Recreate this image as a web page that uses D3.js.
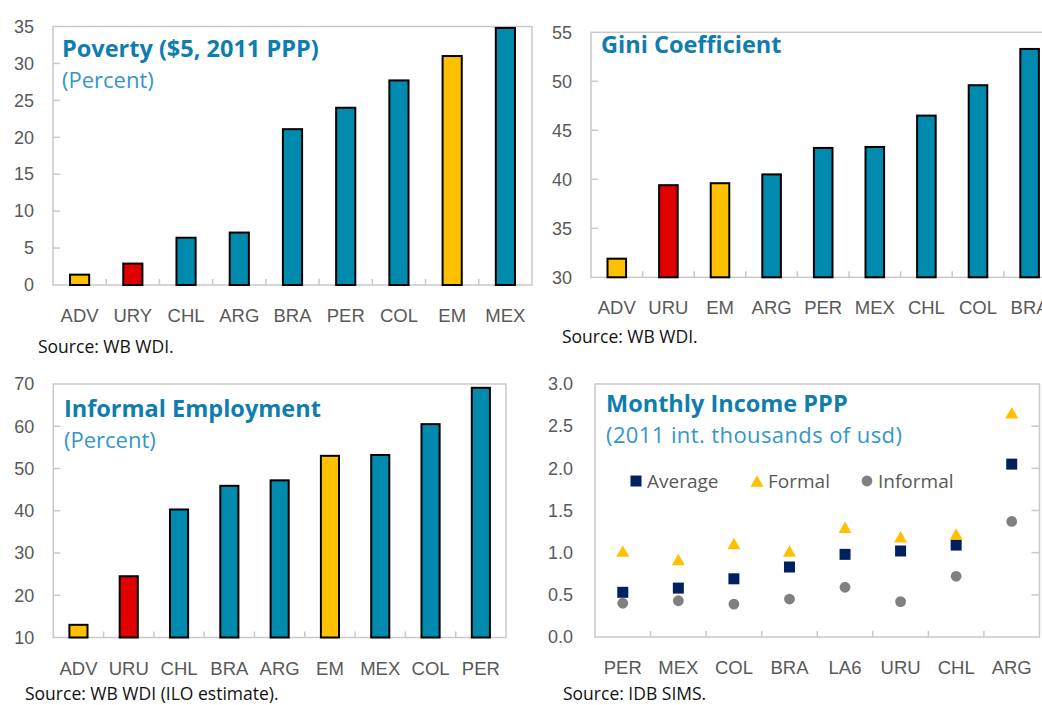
<!DOCTYPE html>
<html>
<head>
<meta charset="utf-8">
<script src="https://cdn.jsdelivr.net/npm/d3@7"></script>
<style>
  html, body { margin: 0; padding: 0; background: #ffffff; }
  svg { display: block; font-family: "Open Sans", "Noto Sans", sans-serif; }
</style>
</head>
<body>
<svg id="chart" width="1042" height="705"></svg>
<script>
// ---- Poverty ($5/day, 2011 PPP), percent ----
const povertyCats = ["ADV", "URY", "CHL", "ARG", "BRA", "PER", "COL", "EM", "MEX"];
const povertyVals = [1.4, 2.9, 6.4, 7.1, 21.1, 24.0, 27.7, 31.0, 34.8];
const povertyTicks = [0, 5, 10, 15, 20, 25, 30, 35];

// ---- Gini coefficient ----
const giniCats = ["ADV", "URU", "EM", "ARG", "PER", "MEX", "CHL", "COL", "BRA"];
const giniVals = [31.9, 39.4, 39.6, 40.5, 43.2, 43.3, 46.5, 49.6, 53.3];
const giniTicks = [30, 35, 40, 45, 50, 55];

// ---- Informal employment, percent ----
const informalCats = ["ADV", "URU", "CHL", "BRA", "ARG", "EM", "MEX", "COL", "PER"];
const informalVals = [13.0, 24.5, 40.3, 45.9, 47.2, 53.0, 53.2, 60.5, 69.1];
const informalTicks = [10, 20, 30, 40, 50, 60, 70];

// ---- Monthly income PPP (2011 int. thousands of USD) ----
const incomeCats = ["PER", "MEX", "COL", "BRA", "LA6", "URU", "CHL", "ARG"];
const incomeAverage = [0.53, 0.58, 0.69, 0.83, 0.98, 1.02, 1.09, 2.05];
const incomeFormal = [1.02, 0.92, 1.11, 1.02, 1.30, 1.19, 1.22, 2.66];
const incomeInformal = [0.40, 0.43, 0.39, 0.45, 0.59, 0.42, 0.72, 1.37];
const incomeTicks = [0, 0.5, 1.0, 1.5, 2.0, 2.5, 3.0];
const incomeSeries = ["Average", "Formal", "Informal"];

// ---- palette ----
const TEAL = "#008AAE", GOLD = "#FFC000", RED = "#E00000";
const NAVY = "#002060", GREY_DOT = "#808080";
const TITLE = "#0F7DAD", SUBTITLE = "#3397C8";
const AXIS_TEXT = "#595959", FRAME = "#C9C9C9";

// aggregates in gold, Uruguay in red, other countries in teal
function barColor(cat) {
  if (cat === "ADV" || cat === "EM") return GOLD;
  if (cat === "URY" || cat === "URU") return RED;
  return TEAL;
}

const svg = d3.select("#chart");
svg.append("rect").attr("width", 1042).attr("height", 705).attr("fill", "#fff");

// Shared frame: box, inward value ticks, category tick marks, labels
function drawFrame(g, x, y, ticks, opts) {
  const [x0, x1] = x.range();
  const [yb, yt] = y.range();

  // y labels (left)
  const yAxis = g.append("g")
    .attr("transform", `translate(${x0},0)`)
    .call(d3.axisLeft(y).tickValues(ticks).tickSize(0).tickPadding(opts.yPad)
      .tickFormat(opts.yFormat || d3.format("d")));
  yAxis.select(".domain").remove();
  yAxis.selectAll("text")
    .attr("fill", AXIS_TEXT).style("font-size", "18px");

  // inward value ticks (left or right edge)
  const inner = ticks.filter(t => t !== y.domain()[0] && t !== y.domain()[1]);
  g.append("g").selectAll("line").data(inner).join("line")
    .attr("x1", opts.rightTicks ? x1 : x0)
    .attr("x2", opts.rightTicks ? x1 - 8 : x0 + 7)
    .attr("y1", d => y(d)).attr("y2", d => y(d))
    .attr("stroke", FRAME).attr("stroke-width", 1.5);

  // category boundary ticks on the baseline
  g.append("g").selectAll("line").data(x.domain().slice(1)).join("line")
    .attr("x1", d => x(d)).attr("x2", d => x(d))
    .attr("y1", yb).attr("y2", yb - 6)
    .attr("stroke", FRAME).attr("stroke-width", 1.5);

  // frame box
  g.append("rect")
    .attr("x", x0).attr("y", yt)
    .attr("width", x1 - x0).attr("height", yb - yt)
    .attr("fill", "none").attr("stroke", FRAME).attr("stroke-width", 1.5);

  // category labels
  const xAxis = g.append("g")
    .attr("transform", `translate(0,${yb})`)
    .call(d3.axisBottom(x).tickSize(0).tickPadding(opts.xPad));
  xAxis.select(".domain").remove();
  xAxis.selectAll("text")
    .attr("fill", AXIS_TEXT).style("font-size", "18.5px");
}

function drawTitles(g, t) {
  g.append("text")
    .attr("x", t.x).attr("y", t.y)
    .attr("fill", TITLE).attr("font-weight", "bold")
    .style("font-size", "23.5px")
    .text(t.title);
  if (t.sub) {
    g.append("text")
      .attr("x", t.x).attr("y", t.y + 31)
      .attr("fill", SUBTITLE)
      .style("font-size", "22px")
      .style("letter-spacing", t.subSpacing || "0px")
      .text(t.sub);
  }
}

function drawSource(g, x, y, text) {
  g.append("text").attr("x", x).attr("y", y)
    .attr("fill", "#111").style("font-size", "17.5px")
    .text(text);
}

function barPanel(p) {
  const g = svg.append("g");
  const x = d3.scaleBand().domain(p.cats).range(p.xRange).padding(0);
  const y = d3.scaleLinear().domain(p.domain).range(p.yRange);
  const bw = x.bandwidth() * 0.36;

  drawFrame(g, x, y, p.ticks, { yPad: 19, xPad: 24 });

  g.append("g").selectAll("rect")
    .data(p.cats.map((c, i) => ({ c, v: p.vals[i] })))
    .join("rect")
    .attr("x", d => x(d.c) + (x.bandwidth() - bw) / 2)
    .attr("width", bw)
    .attr("y", d => y(d.v))
    .attr("height", d => y(p.domain[0]) - y(d.v))
    .attr("fill", d => barColor(d.c))
    .attr("stroke", "#000").attr("stroke-width", 2);

  drawTitles(g, p.titleAt);
  drawSource(g, p.sourceAt[0], p.sourceAt[1], p.source);
}

barPanel({
  cats: povertyCats, vals: povertyVals, ticks: povertyTicks,
  domain: [0, 35], xRange: [53, 532], yRange: [285, 26.5],
  titleAt: { x: 62, y: 57, title: "Poverty ($5, 2011 PPP)", sub: "(Percent)" },
  sourceAt: [38, 353], source: "Source: WB WDI."
});

barPanel({
  cats: giniCats, vals: giniVals, ticks: giniTicks,
  domain: [30, 55], xRange: [591, 1055.4], yRange: [277.3, 32.3],
  titleAt: { x: 601, y: 53, title: "Gini Coefficient" },
  sourceAt: [562, 343], source: "Source: WB WDI."
});

barPanel({
  cats: informalCats, vals: informalVals, ticks: informalTicks,
  domain: [10, 70], xRange: [53.3, 506], yRange: [637.5, 384],
  titleAt: { x: 64, y: 417, title: "Informal Employment", sub: "(Percent)" },
  sourceAt: [25, 700], source: "Source: WB WDI (ILO estimate)."
});

// ---- scatter panel: monthly income ----
(function () {
  const g = svg.append("g");
  const x = d3.scaleBand().domain(incomeCats).range([595, 1039.5]).padding(0);
  const y = d3.scaleLinear().domain([0, 3]).range([637, 384]);
  drawFrame(g, x, y, incomeTicks, { yPad: 22, xPad: 24, rightTicks: true, yFormat: d3.format(".1f") });

  const cx = c => x(c) + x.bandwidth() / 2;
  // triangle path centred on its bounding box
  const tri = (w, h) => `M0,${-h / 2}L${w / 2},${h / 2}L${-w / 2},${h / 2}Z`;
  const markers = {
    Average: sel => sel.append("rect").attr("x", -5.5).attr("y", -5.5)
      .attr("width", 11).attr("height", 11).attr("fill", NAVY),
    Formal: sel => sel.append("path").attr("d", tri(13, 11.5)).attr("fill", GOLD),
    Informal: sel => sel.append("circle").attr("r", 5.4).attr("fill", GREY_DOT)
  };
  const values = { Average: incomeAverage, Formal: incomeFormal, Informal: incomeInformal };

  incomeSeries.forEach(s => {
    g.append("g").selectAll("g")
      .data(incomeCats.map((c, i) => ({ c, v: values[s][i] })))
      .join("g")
      .attr("transform", d => `translate(${cx(d.c)},${y(d.v)})`)
      .each(function () { markers[s](d3.select(this)); });
  });

  // legend
  const legendX = [636, 757, 867];
  incomeSeries.forEach((s, i) => {
    const lg = g.append("g").attr("transform", `translate(${legendX[i]},481)`);
    markers[s](lg);
    lg.append("text").attr("x", 11).attr("y", 6.5)
      .attr("fill", AXIS_TEXT).style("font-size", "19px").text(s);
  });

  drawTitles(g, { x: 606, y: 412, title: "Monthly Income PPP",
    sub: "(2011 int. thousands of usd)", subSpacing: "0.4px" });
  drawSource(g, 563, 700, "Source: IDB SIMS.");
})();
</script>
</body>
</html>
